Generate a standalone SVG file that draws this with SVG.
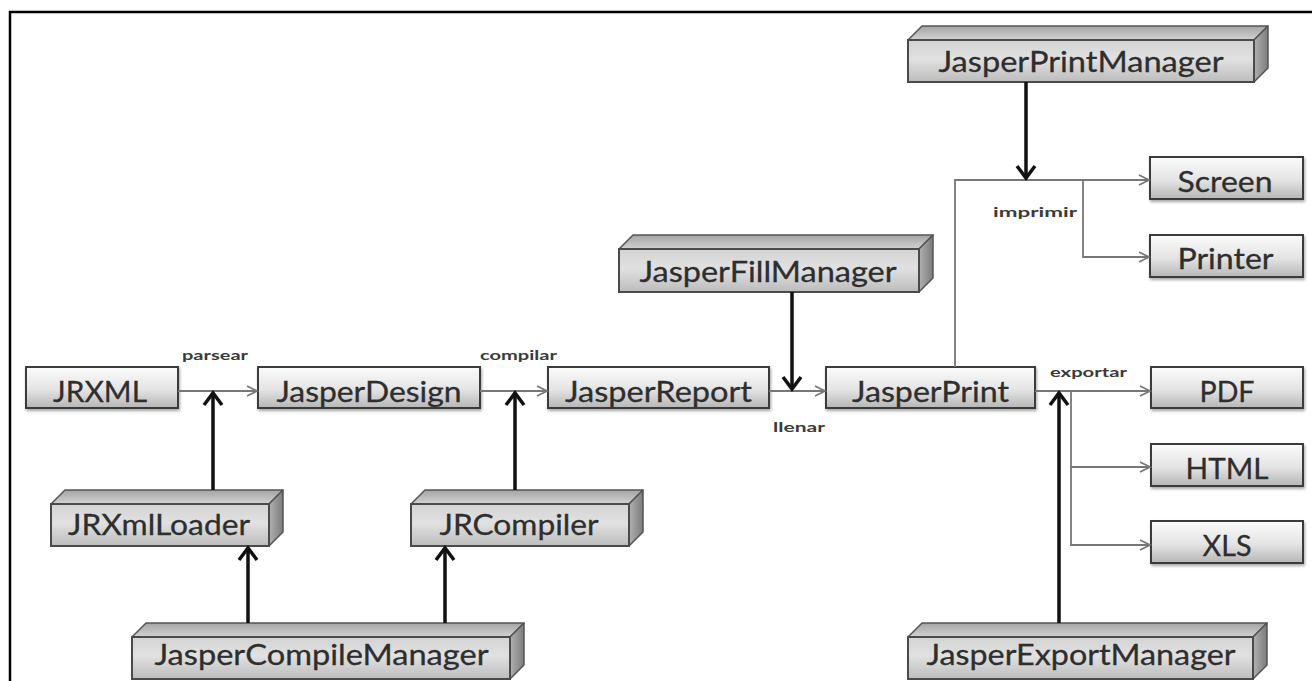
<svg xmlns="http://www.w3.org/2000/svg" width="1312" height="681" viewBox="0 0 1312 681">
  <defs>
    <linearGradient id="g2d" x1="0" y1="0" x2="0" y2="1">
      <stop offset="0" stop-color="#fbfbfb"/>
      <stop offset="0.55" stop-color="#e4e4e4"/>
      <stop offset="1" stop-color="#b6b6b6"/>
    </linearGradient>
    <linearGradient id="gFront" x1="0" y1="0" x2="0" y2="1">
      <stop offset="0" stop-color="#d3d3d3"/>
      <stop offset="0.45" stop-color="#e1e1e1"/>
      <stop offset="1" stop-color="#bcbcbc"/>
    </linearGradient>
    <linearGradient id="gTop" x1="0" y1="0" x2="0" y2="1">
      <stop offset="0" stop-color="#a4a4a4"/>
      <stop offset="1" stop-color="#d2d2d2"/>
    </linearGradient>
    <linearGradient id="gSide" x1="0" y1="0" x2="1" y2="0">
      <stop offset="0" stop-color="#b0b0b0"/>
      <stop offset="1" stop-color="#7c7c7c"/>
    </linearGradient>
    <filter id="shadow" x="-10%" y="-20%" width="125%" height="150%">
      <feDropShadow dx="1" dy="2" stdDeviation="1.5" flood-color="#000" flood-opacity="0.35"/>
    </filter>
    <marker id="thin" markerUnits="userSpaceOnUse" markerWidth="14" markerHeight="14" refX="11" refY="6" orient="auto">
      <path d="M1,1 L11,6 L1,11" fill="none" stroke="#777" stroke-width="1.8"/>
    </marker>
    <marker id="bold" markerUnits="userSpaceOnUse" markerWidth="26" markerHeight="22" refX="14" refY="11" orient="auto">
      <path d="M2,2 L14,11 L2,20" fill="none" stroke="#111" stroke-width="3.5"/>
    </marker>
  </defs>
  <style>
    .box { fill: url(#g2d); stroke: #3a3a3a; stroke-width: 2; filter: url(#shadow); }
    .front { fill: url(#gFront); stroke: #4a4a4a; stroke-width: 2; }
    .top { fill: url(#gTop); stroke: #555; stroke-width: 1.5; stroke-linejoin: round; }
    .side { fill: url(#gSide); stroke: #555; stroke-width: 1.5; stroke-linejoin: round; }
    .name { font-family: Lato, "Open Sans", "Liberation Sans", sans-serif; font-size: 29px; fill: #2e2e2e; stroke: #2e2e2e; stroke-width: 0.3; text-anchor: middle; }
    .lbl { font-family: Lato, "Open Sans", "Liberation Sans", sans-serif; font-size: 14px; font-weight: bold; fill: #3a3a3a; text-anchor: middle; }
    .flow { fill: none; stroke: #777; stroke-width: 1.8; }
    .call { fill: none; stroke: #111; stroke-width: 3.5; }
  </style>

  <rect width="1312" height="681" fill="#fff"/>
  <!-- frame -->
  <path d="M10,681 V12 H1312" fill="none" stroke="#000" stroke-width="2.5"/>

  <!-- flat data nodes -->
  <g id="jrxml"><rect class="box" x="26" y="367" width="152" height="41"/><text class="name" x="100" y="402" textLength="94" lengthAdjust="spacingAndGlyphs">JRXML</text></g>
  <g id="jasperDesign"><rect class="box" x="258" y="367" width="222" height="41"/><text class="name" x="369" y="402" textLength="185" lengthAdjust="spacingAndGlyphs">JasperDesign</text></g>
  <g id="jasperReport"><rect class="box" x="548" y="367" width="221" height="41"/><text class="name" x="658.5" y="402" textLength="187" lengthAdjust="spacingAndGlyphs">JasperReport</text></g>
  <g id="jasperPrint"><rect class="box" x="826" y="367" width="209" height="41"/><text class="name" x="930.5" y="402" textLength="157" lengthAdjust="spacingAndGlyphs">JasperPrint</text></g>
  <g id="pdf"><rect class="box" x="1151" y="367" width="152" height="41"/><text class="name" x="1227" y="402" textLength="55" lengthAdjust="spacingAndGlyphs">PDF</text></g>
  <g id="html"><rect class="box" x="1151" y="444" width="152" height="42"/><text class="name" x="1227" y="479" textLength="83" lengthAdjust="spacingAndGlyphs">HTML</text></g>
  <g id="xls"><rect class="box" x="1151" y="521" width="152" height="42"/><text class="name" x="1227" y="556" textLength="49" lengthAdjust="spacingAndGlyphs">XLS</text></g>
  <g id="screen"><rect class="box" x="1150" y="157" width="153" height="42"/><text class="name" x="1225" y="192" textLength="95" lengthAdjust="spacingAndGlyphs">Screen</text></g>
  <g id="printer"><rect class="box" x="1150" y="235" width="153" height="42"/><text class="name" x="1225.5" y="269" textLength="96" lengthAdjust="spacingAndGlyphs">Printer</text></g>

  <!-- API classes (block shapes) -->
  <g id="jasperPrintManager">
    <path class="top" d="M908,40 L922,26 H1268 L1254,40 Z"/>
    <path class="side" d="M1254,40 L1268,26 V68 L1254,82 Z"/>
    <rect class="front" x="908" y="40" width="346" height="42"/>
    <text class="name" x="1081" y="72" textLength="285" lengthAdjust="spacingAndGlyphs">JasperPrintManager</text>
  </g>
  <g id="jasperFillManager">
    <path class="top" d="M619,249 L633,235 H933 L919,249 Z"/>
    <path class="side" d="M919,249 L933,235 V278 L919,292 Z"/>
    <rect class="front" x="619" y="249" width="300" height="43"/>
    <text class="name" x="768" y="282" textLength="257" lengthAdjust="spacingAndGlyphs">JasperFillManager</text>
  </g>
  <g id="jrXmlLoader">
    <path class="top" d="M51,504 L65,490 H283 L269,504 Z"/>
    <path class="side" d="M269,504 L283,490 V532 L269,546 Z"/>
    <rect class="front" x="51" y="504" width="218" height="42"/>
    <text class="name" x="159" y="535" textLength="182" lengthAdjust="spacingAndGlyphs">JRXmlLoader</text>
  </g>
  <g id="jrCompiler">
    <path class="top" d="M411,504 L425,490 H643 L629,504 Z"/>
    <path class="side" d="M629,504 L643,490 V532 L629,546 Z"/>
    <rect class="front" x="411" y="504" width="218" height="42"/>
    <text class="name" x="519" y="535" textLength="159" lengthAdjust="spacingAndGlyphs">JRCompiler</text>
  </g>
  <g id="jasperCompileManager">
    <path class="top" d="M132,637 L146,623 H524 L510,637 Z"/>
    <path class="side" d="M510,637 L524,623 V665 L510,679 Z"/>
    <rect class="front" x="132" y="637" width="378" height="42"/>
    <text class="name" x="321.5" y="665" textLength="334" lengthAdjust="spacingAndGlyphs">JasperCompileManager</text>
  </g>
  <g id="jasperExportManager">
    <path class="top" d="M908,637 L922,623 H1267 L1253,637 Z"/>
    <path class="side" d="M1253,637 L1267,623 V665 L1253,679 Z"/>
    <rect class="front" x="908" y="637" width="345" height="42"/>
    <text class="name" x="1081" y="665" textLength="309" lengthAdjust="spacingAndGlyphs">JasperExportManager</text>
  </g>

  <!-- connectors -->
  <g id="connectors">
    <path class="flow" d="M178,391 H257" marker-end="url(#thin)"/>
    <path class="flow" d="M480,391 H547" marker-end="url(#thin)"/>
    <path class="flow" d="M769,391 H825" marker-end="url(#thin)"/>
    <path class="flow" d="M1035,391 H1150" marker-end="url(#thin)"/>
    <path class="flow" d="M1071,391 V545 H1150" marker-end="url(#thin)"/>
    <path class="flow" d="M1071,467 H1150" marker-end="url(#thin)"/>
    <path class="flow" d="M955,367 V180 H1149" marker-end="url(#thin)"/>
    <path class="flow" d="M1083,180 V257 H1149" marker-end="url(#thin)"/>

    <path class="call" d="M213,490 V393" marker-end="url(#bold)"/>
    <path class="call" d="M515,490 V393" marker-end="url(#bold)"/>
    <path class="call" d="M792,292 V389" marker-end="url(#bold)"/>
    <path class="call" d="M1026,82 V178" marker-end="url(#bold)"/>
    <path class="call" d="M1059,623 V393" marker-end="url(#bold)"/>
    <path class="call" d="M248,623 V548" marker-end="url(#bold)"/>
    <path class="call" d="M445,623 V548" marker-end="url(#bold)"/>

    <text class="lbl" x="215" y="360" textLength="66" lengthAdjust="spacingAndGlyphs">parsear</text>
    <text class="lbl" x="518.5" y="360" textLength="77" lengthAdjust="spacingAndGlyphs">compilar</text>
    <text class="lbl" x="799" y="432" textLength="52" lengthAdjust="spacingAndGlyphs">llenar</text>
    <text class="lbl" x="1035" y="217" textLength="84" lengthAdjust="spacingAndGlyphs">imprimir</text>
    <text class="lbl" x="1088.5" y="377" textLength="77" lengthAdjust="spacingAndGlyphs">exportar</text>
  </g>
</svg>
